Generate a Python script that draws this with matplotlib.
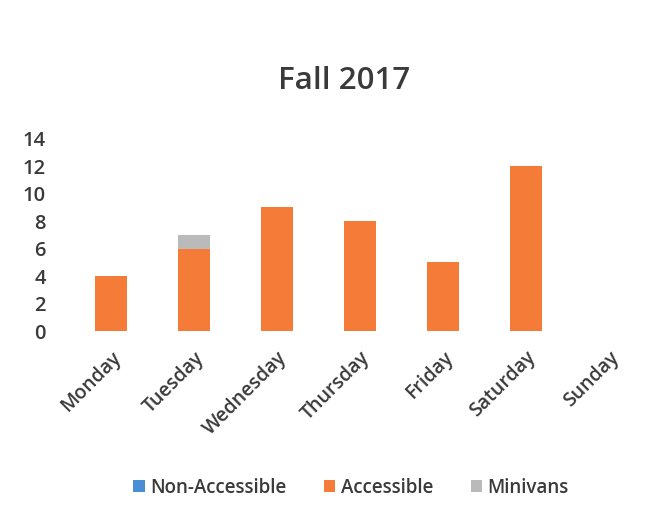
import matplotlib
matplotlib.use("Agg")
import matplotlib.pyplot as plt
import numpy as np

days = ["Monday", "Tuesday", "Wednesday", "Thursday", "Friday", "Saturday", "Sunday"]
non_accessible = [0, 0, 0, 0, 0, 0, 0]
accessible = [4, 6, 9, 8, 5, 12, 0]
minivans = [0, 1, 0, 0, 0, 0, 0]
y_ticks = [0, 2, 4, 6, 8, 10, 12, 14]

plt.rcParams["font.family"] = ["Open Sans", "DejaVu Sans"]
plt.rcParams["font.weight"] = "semibold"
text_color = "#3a3a3a"

fig = plt.figure(figsize=(6.69, 5.18), dpi=100)
ax = fig.add_axes([0.104, 0.361, 0.868, 0.371])

x = np.arange(len(days))
width = 0.39
b1 = ax.bar(x, non_accessible, width, color="#4a8fd6", label="Non-Accessible")
b2 = ax.bar(x, accessible, width, bottom=non_accessible, color="#f57c38", label="Accessible")
base = np.array(non_accessible) + np.array(accessible)
b3 = ax.bar(x, minivans, width, bottom=base, color="#bababa", label="Minivans")

ax.set_xlim(-0.5, len(days) - 0.5)
ax.set_ylim(0, 14)
ax.set_yticks(y_ticks)
ax.set_yticklabels([str(v) for v in y_ticks], fontsize=14.5, color=text_color,
                   fontweight="semibold")
ax.set_xticks(x)
ax.set_xticklabels(days, rotation=45, ha="right", rotation_mode="anchor",
                   fontsize=14, color=text_color, fontweight="semibold")
ax.tick_params(axis="both", length=0)
ax.tick_params(axis="y", pad=17)
ax.tick_params(axis="x", pad=12)
for s in ax.spines.values():
    s.set_visible(False)

fig.text(0.515, 0.843, "Fall 2017", ha="center", va="center",
         fontsize=22.5, color=text_color, fontweight="semibold")

fig.legend(handles=[b1, b2, b3], loc="center", bbox_to_anchor=(0.525, 0.058),
           ncol=3, frameon=False, prop={"size": 13.5, "weight": "semibold"},
           labelcolor=text_color,
           handlelength=0.6, handleheight=0.6, handletextpad=0.3,
           columnspacing=2.0)

fig.savefig("out.png", dpi=100)
